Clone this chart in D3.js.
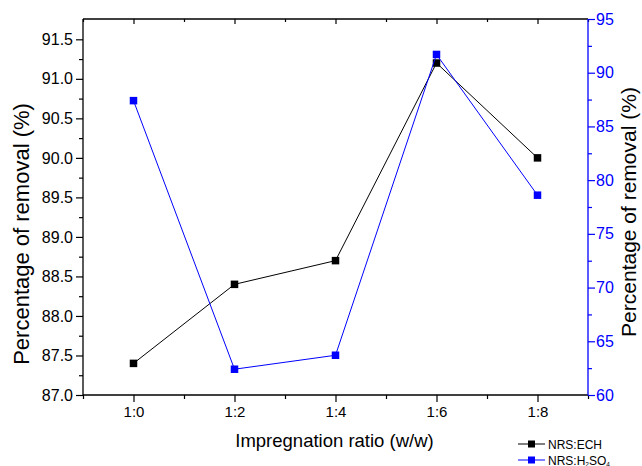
<!DOCTYPE html>
<html>
<head>
<meta charset="utf-8">
<script src="https://cdn.jsdelivr.net/npm/d3@7"></script>
<style>
html,body{margin:0;padding:0;background:#fff;}
text{font-family:"Liberation Sans",Arial,Helvetica,sans-serif;}
</style>
</head>
<body>
<svg id="chart" width="642" height="466"></svg>
<script>
const categories = ["1:0", "1:2", "1:4", "1:6", "1:8"];
const echValues = [87.4, 88.4, 88.7, 91.2, 90.0];
const h2so4Values = [87.4, 62.4, 63.7, 91.7, 78.6];
const leftTicks = [87.0, 87.5, 88.0, 88.5, 89.0, 89.5, 90.0, 90.5, 91.0, 91.5];
const rightTicks = [60, 65, 70, 75, 80, 85, 90, 95];
const seriesNames = ["NRS:ECH", "NRS:H2SO4"];

const W = 642, H = 466;
const L = 83, R = 588, T = 19, B = 395;
const svg = d3.select("#chart");
const BLUE = "#0000ff";

const x = d3.scaleLinear().domain([0.5, 5.5]).range([L, R]);
const yL = d3.scaleLinear().domain([87.0, 91.757]).range([B, T]);
const yR = d3.scaleLinear().domain([60, 95]).range([B, T]);

const majorX = d3.range(1, 6);
const minorX = d3.range(0.5, 6, 1);

// bottom axis
const gB = svg.append("g").attr("transform", `translate(0,${B})`);
gB.call(d3.axisBottom(x).tickValues(majorX).tickSize(7).tickFormat((d) => categories[d - 1]));
gB.append("g").call(d3.axisBottom(x).tickValues(minorX).tickSize(4).tickFormat(""));
// top axis (ticks inward)
const gT = svg.append("g").attr("transform", `translate(0,${T})`);
gT.call(d3.axisBottom(x).tickValues(majorX).tickSize(5).tickFormat(""));
gT.append("g").call(d3.axisBottom(x).tickValues(minorX).tickSize(3).tickFormat(""));

// left axis
const gL = svg.append("g").attr("transform", `translate(${L},0)`);
gL.call(d3.axisLeft(yL).tickValues(leftTicks).tickSize(7).tickFormat(d3.format(".1f")));
gL.append("g").call(d3.axisLeft(yL).tickValues(d3.range(87.25, 91.75, 0.5)).tickSize(4).tickFormat(""));

// right axis
const gR = svg.append("g").attr("transform", `translate(${R},0)`);
gR.call(d3.axisRight(yR).tickValues(rightTicks).tickSize(7).tickFormat(d3.format("d")));
gR.append("g").call(d3.axisRight(yR).tickValues(d3.range(62.5, 95, 5)).tickSize(4).tickFormat(""));

svg.selectAll(".domain").remove();
svg.selectAll(".tick line").attr("stroke-width", 1.2);
[gB, gT, gL].forEach(g => g.selectAll(".tick line").attr("stroke", "#000"));
gR.selectAll(".tick line").attr("stroke", BLUE);
gR.selectAll(".tick text").attr("fill", BLUE);
svg.selectAll(".tick text").attr("font-size", 16).attr("font-family", '"Liberation Sans",Arial,sans-serif');
gB.selectAll(".tick text").attr("font-size", 15).attr("dy", "0.9em").attr("y", 8);
gL.selectAll(".tick text").attr("x", -10);
gR.selectAll(".tick text").attr("x", 8);

// frame lines
svg.append("line").attr("x1", L).attr("x2", R).attr("y1", T).attr("y2", T).attr("stroke", "#000").attr("stroke-width", 1.3);
svg.append("line").attr("x1", L).attr("x2", R).attr("y1", B).attr("y2", B).attr("stroke", "#000").attr("stroke-width", 1.3);
svg.append("line").attr("x1", L).attr("x2", L).attr("y1", T).attr("y2", B).attr("stroke", "#000").attr("stroke-width", 1.3);
svg.append("line").attr("x1", R).attr("x2", R).attr("y1", T).attr("y2", B).attr("stroke", BLUE).attr("stroke-width", 1.3);

// series
function drawSeries(vals, yScale, color) {
  const line = d3.line().x((d, i) => x(i + 1)).y(d => yScale(d));
  svg.append("path").datum(vals).attr("d", line).attr("fill", "none").attr("stroke", color).attr("stroke-width", 1);
  const s = 7.5;
  svg.selectAll(null).data(vals).enter().append("rect")
    .attr("x", (d, i) => x(i + 1) - s / 2).attr("y", d => yScale(d) - s / 2)
    .attr("width", s).attr("height", s).attr("fill", color);
}
drawSeries(echValues, yL, "#000");
drawSeries(h2so4Values, yR, BLUE);

// axis titles
svg.append("text").attr("x", (L + R) / 2 - 1).attr("y", 447).attr("text-anchor", "middle")
  .attr("font-size", 18.5).text("Impregnation ratio (w/w)");
svg.append("text").attr("transform", "translate(29,234) rotate(-90)").attr("text-anchor", "middle")
  .attr("font-size", 22).text("Percentage of removal (%)");
svg.append("text").attr("transform", "translate(636,212) rotate(-90)").attr("text-anchor", "middle")
  .attr("font-size", 21).text("Percentage of removal (%)");

// legend
const legY = [444, 460];
const legColors = ["#000", BLUE];
legY.forEach((ly, i) => {
  svg.append("line").attr("x1", 518).attr("x2", 545).attr("y1", ly).attr("y2", ly).attr("stroke", legColors[i]).attr("stroke-width", 1);
  svg.append("rect").attr("x", 531.5 - 3.5).attr("y", ly - 3.5).attr("width", 7).attr("height", 7).attr("fill", legColors[i]);
});
svg.append("text").attr("x", 548).attr("y", legY[0] + 4.5).attr("font-size", 12).text(seriesNames[0]);
const t2 = svg.append("text").attr("x", 548).attr("y", legY[1] + 4.5).attr("font-size", 12);
t2.append("tspan").text("NRS:H");
t2.append("tspan").attr("font-size", 6.5).attr("dy", 2).text("2");
t2.append("tspan").attr("dy", -2).text("SO");
t2.append("tspan").attr("font-size", 6.5).attr("dy", 2).text("4");
</script>
</body>
</html>
